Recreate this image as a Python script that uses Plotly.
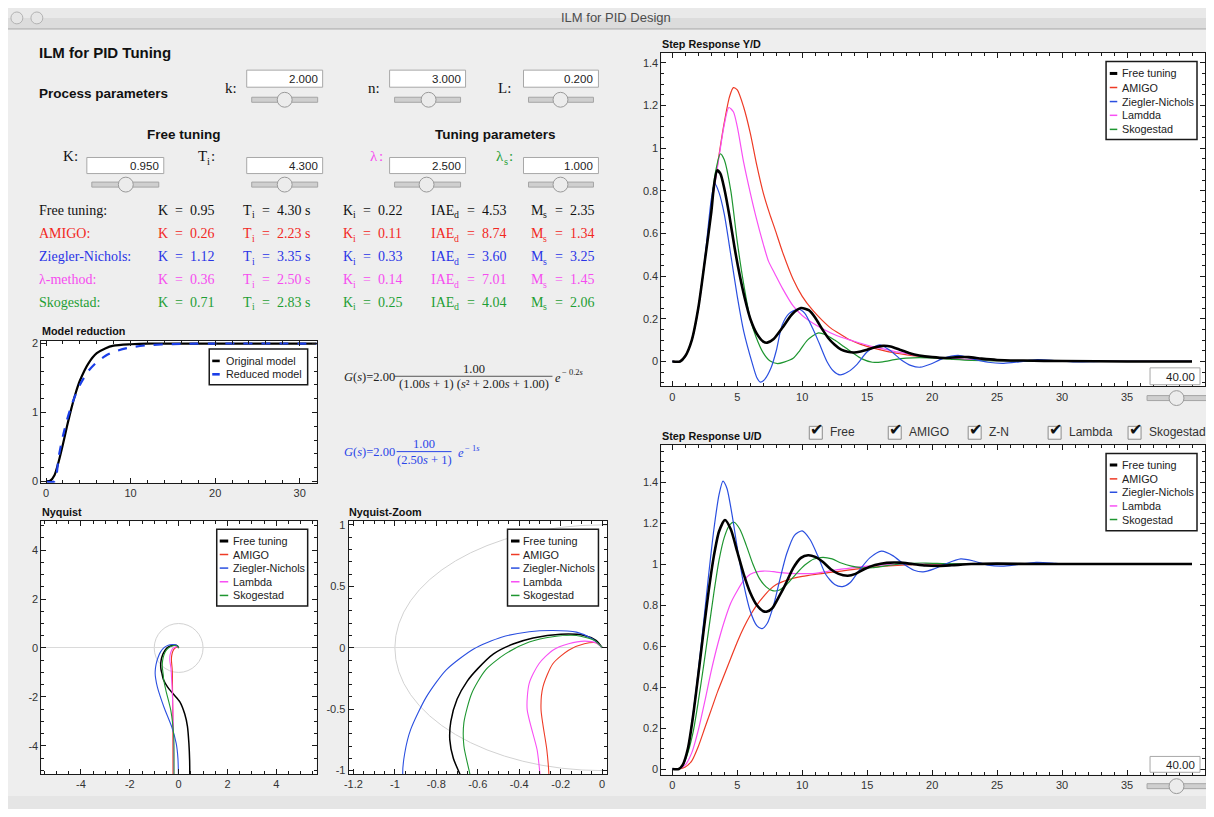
import plotly.graph_objects as go

# ---------------------------------------------------------------- data
METHOD_LABELS = ["Free tuning:", "AMIGO:", "Ziegler-Nichols:", "λ-method:", "Skogestad:"]
K_VALS = [0.95, 0.26, 1.12, 0.36, 0.71]
TI_VALS = [4.30, 2.23, 3.35, 2.50, 2.83]
KI_VALS = [0.22, 0.11, 0.33, 0.14, 0.25]
IAE_VALS = [4.53, 8.74, 3.60, 7.01, 4.04]
MS_VALS = [2.35, 1.34, 3.25, 1.45, 2.06]

PROCESS_PARAMS = [("k:", 2.000), ("n:", 3.000), ("L:", 0.200)]
FREE_PARAMS = [(("K", "", ":"), 0.950), (("T", "i", ":"), 4.300)]
TUNING_PARAMS = [(("λ", "", ":"), 2.500), (("λ", "s", ":"), 1.000)]

LEGEND_YD = ["Free tuning", "AMIGO", "Ziegler-Nichols", "Lamdda", "Skogestad"]
LEGEND_UD = ["Free tuning", "AMIGO", "Ziegler-Nichols", "Lambda", "Skogestad"]
LEGEND_MR = ["Original model", "Reduced model"]
CHECK_LABELS = ["Free", "AMIGO", "Z-N", "Lambda", "Skogestad"]
TIME_SPAN = 40.00

# model reduction step responses
MR_T_ORIG = [0, 0.5, 1, 1.5, 2, 2.5, 3, 3.5, 4, 5, 6, 7, 8, 10, 12, 15, 20, 32]
MR_Y_ORIG = [0, 0.01, 0.09, 0.29, 0.54, 0.81, 1.06, 1.28, 1.46, 1.71, 1.86, 1.93, 1.97, 1.99, 2.0, 2.0, 2.0, 2.0]
MR_T_RED = [0, 1, 1.5, 2, 2.5, 3, 3.5, 4, 5, 6, 7, 8, 10, 12, 15, 20, 32]
MR_Y_RED = [0, 0, 0.36, 0.66, 0.9, 1.1, 1.26, 1.4, 1.6, 1.73, 1.82, 1.88, 1.945, 1.975, 1.993, 2.0, 2.0]

# Nyquist curves (real, imag)
NY_RE_FREE = [0.46, 0.45, 0.42, 0.36, 0.25, 0.05, -0.2, -0.45, -0.62, -0.686, -0.718, -0.735, -0.73, -0.70, -0.65, -0.60, -0.524, -0.43, -0.333, -0.2, -0.086, -0.03, 0.0]
NY_IM_FREE = [-5.6, -4.6, -3.9, -3.2, -2.7, -2.2, -1.9, -1.6, -1.3, -1.03, -0.9, -0.75, -0.6, -0.42, -0.27, -0.17, -0.05, 0.03, 0.08, 0.11, 0.10, 0.06, 0.0]
NY_RE_AMIGO = [-0.23, -0.232, -0.236, -0.242, -0.25, -0.255, -0.257, -0.267, -0.295, -0.286, -0.238, -0.162, -0.086, -0.03, 0.0]
NY_IM_AMIGO = [-5.6, -4.5, -3.5, -2.5, -1.7, -1.25, -1.03, -0.83, -0.5, -0.32, -0.13, -0.02, 0.032, 0.04, 0.0]
NY_RE_ZN = [0.0, -0.03, -0.1, -0.28, -0.6, -0.87, -0.94, -0.962, -0.952, -0.924, -0.848, -0.752, -0.62, -0.486, -0.352, -0.238, -0.124, -0.048, 0.0]
NY_IM_ZN = [-5.6, -4.5, -3.9, -3.23, -2.42, -1.6, -1.25, -1.03, -0.855, -0.667, -0.40, -0.18, -0.01, 0.086, 0.13, 0.14, 0.127, 0.073, 0.0]
NY_RE_LAMBDA = [-0.2, -0.205, -0.215, -0.235, -0.265, -0.29, -0.3, -0.314, -0.362, -0.352, -0.305, -0.238, -0.162, -0.086, -0.03, 0.0]
NY_IM_LAMBDA = [-5.6, -4.5, -3.5, -2.5, -1.7, -1.25, -1.03, -0.83, -0.5, -0.29, -0.13, -0.02, 0.032, 0.054, 0.04, 0.0]
NY_RE_SKOG = [-0.19, -0.19, -0.2, -0.32, -0.52, -0.61, -0.638, -0.667, -0.667, -0.629, -0.562, -0.467, -0.352, -0.238, -0.124, -0.038, 0.0]
NY_IM_SKOG = [-5.6, -4.5, -3.64, -2.55, -1.74, -1.3, -1.03, -0.80, -0.61, -0.37, -0.18, -0.05, 0.046, 0.09, 0.1, 0.06, 0.0]
UNIT_RADIUS = 1.0

# Step response Y/D
YD_T_FREE = [0, 0.6, 1, 1.5, 2, 2.5, 3, 3.2, 3.45, 3.7, 4.0, 4.4, 4.8, 5.2, 5.6, 6.0, 6.5, 7.0, 7.3, 7.8, 8.5, 9.2, 9.9, 10.5, 11, 11.5, 12, 12.5, 13, 13.5, 14, 14.5, 15, 15.6, 16.2, 16.8, 17.5, 18.2, 19, 20, 21, 22, 22.8, 23.8, 25, 27, 30, 35, 40]
YD_Y_FREE = [0, 0, 0.025, 0.1, 0.25, 0.47, 0.7, 0.82, 0.895, 0.88, 0.81, 0.68, 0.53, 0.4, 0.29, 0.2, 0.13, 0.093, 0.088, 0.105, 0.16, 0.22, 0.25, 0.24, 0.205, 0.155, 0.11, 0.078, 0.055, 0.045, 0.042, 0.047, 0.055, 0.066, 0.073, 0.07, 0.055, 0.04, 0.028, 0.02, 0.016, 0.02, 0.02, 0.013, 0.007, 0.004, 0.002, 0, 0]
YD_T_AMIGO = [0, 0.6, 1, 1.5, 2, 2.5, 3, 3.5, 4.0, 4.4, 4.7, 5.0, 5.5, 6.0, 6.5, 7.0, 7.5, 7.9, 8.5, 9.3, 10, 10.8, 11.5, 12.2, 13, 13.7, 14.5, 15.5, 16.5, 17.5, 18.5, 19.5, 21, 22.5, 25, 28, 32, 40]
YD_Y_AMIGO = [0, 0, 0.025, 0.1, 0.25, 0.47, 0.72, 0.93, 1.12, 1.24, 1.283, 1.272, 1.19, 1.07, 0.92, 0.79, 0.69, 0.62, 0.51, 0.385, 0.305, 0.24, 0.195, 0.156, 0.125, 0.1, 0.08, 0.062, 0.047, 0.036, 0.027, 0.021, 0.014, 0.009, 0.004, 0.002, 0, 0]
YD_T_ZN = [0, 0.6, 1, 1.5, 2, 2.5, 3, 3.26, 3.6, 4.0, 4.5, 5.0, 5.5, 6.15, 6.5, 6.78, 7.1, 7.6, 8.0, 8.45, 9.0, 9.7, 10.2, 10.8, 11.3, 11.9, 12.4, 12.9, 13.5, 14.2, 15.0, 15.95, 16.8, 17.6, 18.4, 19.1, 19.9, 20.8, 22.0, 23.1, 24.3, 25.5, 26.7, 28.1, 29.5, 31, 33, 40]
YD_Y_ZN = [0, 0, 0.025, 0.1, 0.25, 0.48, 0.76, 0.834, 0.79, 0.69, 0.5, 0.305, 0.14, -0.008, -0.075, -0.097, -0.085, -0.03, 0.05, 0.17, 0.225, 0.245, 0.225, 0.155, 0.086, 0.0, -0.045, -0.063, -0.05, -0.015, 0.045, 0.078, 0.05, 0.008, -0.02, -0.027, -0.012, 0.013, 0.028, 0.012, -0.004, -0.009, -0.002, 0.008, 0.004, -0.002, 0, 0]
YD_T_LAMBDA = [0, 0.6, 1, 1.5, 2, 2.5, 3, 3.5, 4.0, 4.35, 4.7, 5.0, 5.5, 6.0, 6.43, 7.0, 7.4, 7.9, 8.5, 9.3, 10, 10.8, 11.5, 12.2, 13, 13.7, 14.5, 15.5, 16.5, 17.5, 18.5, 19.5, 21, 22.5, 25, 28, 32, 40]
YD_Y_LAMBDA = [0, 0, 0.025, 0.1, 0.25, 0.47, 0.72, 0.92, 1.11, 1.19, 1.17, 1.1, 0.93, 0.79, 0.68, 0.55, 0.47, 0.41, 0.34, 0.26, 0.215, 0.18, 0.155, 0.133, 0.113, 0.1, 0.085, 0.068, 0.055, 0.042, 0.031, 0.023, 0.015, 0.01, 0.004, 0.002, 0, 0]
YD_T_SKOG = [0, 0.6, 1, 1.5, 2, 2.5, 3, 3.3, 3.7, 4.0, 4.5, 5.0, 5.5, 6.0, 6.43, 7.0, 7.5, 8.1, 8.6, 9.3, 9.8, 10.4, 11.2, 11.8, 12.5, 13.2, 13.9, 14.6, 15.4, 16.2, 17.1, 18, 19, 20, 21.5, 23, 25, 28, 40]
YD_Y_SKOG = [0, 0, 0.025, 0.1, 0.25, 0.47, 0.72, 0.88, 0.973, 0.945, 0.8, 0.56, 0.36, 0.2, 0.117, 0.04, 0.003, -0.01, -0.003, 0.015, 0.05, 0.1, 0.133, 0.125, 0.1, 0.07, 0.04, 0.012, -0.004, -0.002, 0.008, 0.015, 0.018, 0.016, 0.01, 0.005, 0.002, 0, 0]

# Step response U/D
UD_T_FREE = [0, 0.5, 0.8, 1.2, 1.6, 2, 2.4, 2.8, 3.2, 3.6, 4.05, 4.5, 5, 5.5, 6, 6.5, 7, 7.3, 7.7, 8.2, 8.7, 9.3, 9.9, 10.45, 11, 11.6, 12.2, 12.8, 13.5, 14.1, 14.8, 15.6, 16.5, 17.5, 18.5, 19.5, 20.5, 21.5, 23, 25, 28, 40]
UD_Y_FREE = [0, 0, 0.02, 0.1, 0.26, 0.46, 0.67, 0.87, 1.04, 1.16, 1.215, 1.17, 1.06, 0.95, 0.86, 0.8, 0.77, 0.768, 0.785, 0.84, 0.9, 0.98, 1.03, 1.043, 1.035, 1.01, 0.975, 0.952, 0.943, 0.952, 0.976, 0.995, 1.006, 1.007, 1.0, 0.993, 0.991, 0.994, 1.0, 1.002, 1.0, 1.0]
UD_T_AMIGO = [0, 0.5, 1, 1.5, 2, 2.5, 3, 3.5, 4, 4.5, 5, 5.5, 6, 6.5, 7, 7.5, 8, 9, 10, 11, 12, 13, 14, 15, 16, 18, 20, 25, 40]
UD_Y_AMIGO = [0, 0, 0.01, 0.04, 0.11, 0.2, 0.29, 0.38, 0.46, 0.54, 0.62, 0.69, 0.75, 0.8, 0.84, 0.875, 0.9, 0.925, 0.94, 0.95, 0.958, 0.966, 0.974, 0.982, 0.988, 0.996, 1.0, 1.001, 1.0]
UD_T_ZN = [0, 0.5, 0.8, 1.2, 1.6, 2, 2.4, 2.8, 3.2, 3.6, 3.9, 4.2, 4.6, 5, 5.5, 6, 6.5, 6.9, 7.3, 7.8, 8.3, 8.8, 9.4, 10, 10.6, 11.2, 11.8, 12.5, 13.1, 13.7, 14.4, 15.2, 16.1, 17, 17.8, 18.6, 19.3, 20.1, 21, 22.2, 23.2, 24.3, 25.4, 26.5, 28, 29.5, 31, 33, 40]
UD_Y_ZN = [0, 0, 0.02, 0.1, 0.27, 0.48, 0.71, 0.95, 1.17, 1.34, 1.405, 1.37, 1.24, 1.08, 0.9, 0.77, 0.7, 0.685, 0.71, 0.8, 0.93, 1.05, 1.14, 1.162, 1.12, 1.04, 0.95, 0.9, 0.89, 0.91, 0.97, 1.03, 1.063, 1.04, 1.0, 0.97, 0.962, 0.975, 1.0, 1.025, 1.015, 0.995, 0.99, 0.997, 1.008, 1.004, 0.998, 1.0, 1.0]
UD_T_LAMBDA = [0, 0.5, 1, 1.5, 2, 2.5, 3, 3.5, 4, 4.5, 5, 5.5, 6, 6.5, 7, 7.5, 8, 9, 10, 11, 12, 13, 14, 15, 16, 18, 20, 25, 40]
UD_Y_LAMBDA = [0, 0, 0.02, 0.08, 0.19, 0.33, 0.48, 0.61, 0.72, 0.81, 0.87, 0.92, 0.95, 0.962, 0.966, 0.965, 0.961, 0.955, 0.953, 0.955, 0.965, 0.975, 0.983, 0.99, 0.995, 1.0, 1.002, 1.001, 1.0]
UD_T_SKOG = [0, 0.5, 0.8, 1.2, 1.6, 2, 2.4, 2.8, 3.2, 3.6, 4.0, 4.4, 4.75, 5.2, 5.7, 6.2, 6.7, 7.2, 7.7, 8.2, 8.8, 9.5, 10.2, 10.9, 11.6, 12.3, 13, 13.8, 14.6, 15.4, 16.3, 17.2, 18.5, 19.5, 21, 23, 40]
UD_Y_SKOG = [0, 0, 0.015, 0.08, 0.18, 0.33, 0.5, 0.68, 0.86, 1.02, 1.13, 1.19, 1.204, 1.17, 1.09, 1.0, 0.93, 0.89, 0.87, 0.872, 0.9, 0.95, 0.995, 1.025, 1.033, 1.025, 1.005, 0.99, 0.982, 0.982, 0.99, 0.998, 1.004, 1.005, 1.002, 1.0, 1.0]

# ---------------------------------------------------------------- styles
PAGE_W, PAGE_H = 1214, 817
OFF = 8                      # default body margin of the html page
W, H = PAGE_W - 2 * OFF, PAGE_H - 2 * OFF
SANS = "Liberation Sans, Arial, Helvetica, sans-serif"
SERIF = "Liberation Serif, Times New Roman, serif"
TEXT_COLORS = ["#111111", "#f2281f", "#2a34e6", "#f64cf0", "#1f9e35"]
LINE_COLORS = ["#000000", "#ee3b26", "#2a4fe0", "#f850f4", "#1e9630"]
LINE_WIDTHS = [2.6, 1.2, 1.2, 1.2, 1.2]
BG = "#eeeeee"

# approximate Times glyph advance widths (per 1000 em) for composing sub-scripted labels
TIMES_W = {"T": 611, "K": 722, "I": 333, "A": 722, "E": 611, "M": 889, "λ": 560,
           "i": 278, "d": 500, "s": 389, "e": 444, ":": 278}


def tw(s, size):
    return sum(TIMES_W.get(ch, 500) for ch in s) * size / 1000.0


def cx(x):
    # small horizontal calibration of the left part of the layout
    return x - 5.0 * (1206 - x) / 1166 if x < 1206 else x


def cy(y):
    # small vertical calibration of the top part of the layout
    return y - 4.0 * max(0.0, 1 - (y - 20) / 310)


def px(x):
    return (cx(x) - OFF) / W


def py(y):
    return 1 - (cy(y) - OFF) / H


shapes = []
annotations = []


def rect(x0, y0, x1, y1, fill, line=None, lw=1, layer="above"):
    shapes.append(dict(type="rect", xref="paper", yref="paper",
                       x0=px(x0), x1=px(x1), y0=py(y1), y1=py(y0),
                       fillcolor=fill,
                       line=dict(color=line if line else fill, width=lw if line else 0),
                       layer=layer))


def circle(ccx, ccy, r, fill, line, lw=1):
    x = cx(ccx)
    y = cy(ccy)
    shapes.append(dict(type="circle", xref="paper", yref="paper",
                       x0=(x - r - OFF) / W, x1=(x + r - OFF) / W,
                       y0=1 - (y + r - OFF) / H, y1=1 - (y - r - OFF) / H,
                       fillcolor=fill, line=dict(color=line, width=lw), layer="above"))


def hline(x0, x1, y, color, width=1, dash="solid"):
    shapes.append(dict(type="line", xref="paper", yref="paper",
                       x0=px(x0), x1=px(x1), y0=py(y), y1=py(y),
                       line=dict(color=color, width=width, dash=dash), layer="above"))


def text(x, y, s, size, color="#111111", family=SANS, xanchor="left", yanchor="middle"):
    annotations.append(dict(x=px(x), y=py(y), xref="paper", yref="paper", text=s,
                            showarrow=False, xanchor=xanchor, yanchor=yanchor,
                            font=dict(family=family, size=size, color=color),
                            borderpad=0))


def sub_text(x, y, main, sub, rest, size, color):
    """Symbol with a subscript, followed by the rest of the text (all serif)."""
    text(x, y, main, size, color, SERIF)
    x2 = x + tw(main, size) + 0.5
    if sub:
        ss = size * 0.7
        text(x2, y + size * 0.3, sub, ss, color, SERIF)
        x2 += tw(sub, ss) + 0.5
    if rest:
        text(x2, y, rest, size, color, SERIF)


def input_box(x0, y0, x1, y1, value, fmt="{:.3f}"):
    rect(x0, y0, x1, y1, "#ffffff", "#a8a8a8", 1)
    text(x1 - 4, (y0 + y1) / 2 + 0.5, fmt.format(value), 11.5, "#222222", SANS, "right")


def slider(x0, x1, sy, knob_x):
    rect(x0, sy - 2.5, x1, sy + 2.5, "#cfcfcf", "#a5a5a5", 1)
    circle(knob_x, sy, 7.5, "#ececec", "#9a9a9a", 1)


def legend(box, entries, ys, sx0, sx1, tx):
    rect(box[0], box[1], box[2], box[3], "#ffffff", "#1a1a1a", 1.5)
    for (name, color, width, dash), y in zip(entries, ys):
        hline(sx0, sx1, y, color, width, dash)
        text(tx, y, name, 10.8, "#222222")


# ---------------------------------------------------------------- window chrome
rect(0, 7, PAGE_W, 19, "#e9e9e9")
rect(0, 19, PAGE_W, 30, "#dcdcdc")
hline(0, PAGE_W, 30, "#a9a9a9", 1)
circle(17, 19, 6, "#e6e6e6", "#b3b3b3", 1)
circle(37, 19, 6, "#e6e6e6", "#b3b3b3", 1)
text(617, 19, "ILM for PID Design", 13, "#4d4d4d", SANS, "center")
rect(0, 800, PAGE_W, PAGE_H, "#e5e5e5")

# ---------------------------------------------------------------- left control panel
text(38, 53, "<b>ILM for PID Tuning</b>", 15, "#111111")
text(38, 94, "<b>Process parameters</b>", 13.5, "#111111")

proc_cols = [(224, 247, 323, 285), (367, 390, 466, 429), (497, 524, 599, 561)]
for (lab, val), (lx, bx0, bx1, kx) in zip(PROCESS_PARAMS, proc_cols):
    text(lx, 89, lab, 15, "#111111", SERIF)
    input_box(bx0, 71, bx1, 88, val)
    slider(bx0 + 5, bx1 - 5, 100.5, kx)

text(184, 135, "<b>Free tuning</b>", 13.5, "#111111", SANS, "center")
text(496, 135, "<b>Tuning parameters</b>", 13.5, "#111111", SANS, "center")

free_cols = [(62, 87, 164, 126, "#111111"), (197, 247, 323, 285, "#111111")]
tune_cols = [(369, 390, 466, 427, TEXT_COLORS[3]), (495, 524, 599, 561, TEXT_COLORS[4])]
for (lab, val), (lx, bx0, bx1, kx, col) in zip(FREE_PARAMS + TUNING_PARAMS, free_cols + tune_cols):
    sub_text(lx, 157, lab[0], lab[1], lab[2], 15, col)
    input_box(bx0, 158, bx1, 174, val)
    slider(bx0 + 5, bx1 - 5, 185, kx)

# results table
row_y = [211, 234, 257, 280, 302]
sp = "\u2002"
for i in range(5):
    c = TEXT_COLORS[i]
    y = row_y[i]
    text(38, y, METHOD_LABELS[i], 14, c, SERIF)
    text(157, y, f"K{sp}={sp}{K_VALS[i]:.2f}", 14, c, SERIF)
    sub_text(242, y, "T", "i", f"{sp}={sp}{TI_VALS[i]:.2f} s", 14, c)
    sub_text(342, y, "K", "i", f"{sp}={sp}{KI_VALS[i]:.2f}", 14, c)
    sub_text(430, y, "IAE", "d", f"{sp}={sp}{IAE_VALS[i]:.2f}", 14, c)
    sub_text(530, y, "M", "s", f"{sp}={sp}{MS_VALS[i]:.2f}", 14, c)

# transfer-function formulas
FC = "#222222"
text(343, 377, "<i>G</i>(<i>s</i>)=2.00", 12.5, FC, SERIF)
text(474, 369, "1.00", 12.5, FC, SERIF, "center")
hline(395, 553, 376.5, "#555555", 1)
text(474, 384.5, "(1.00<i>s</i> + 1) (<i>s</i>² + 2.00<i>s</i> + 1.00)", 12.5, FC, SERIF, "center")
text(555, 378, "<i>e</i>", 12.5, FC, SERIF)
text(562, 372.5, "− 0.2<i>s</i>", 8.5, FC, SERIF)

FB = "#2a45e8"
text(343, 453, "<i>G</i>(<i>s</i>)=2.00", 12.5, FB, SERIF)
text(424.5, 445, "1.00", 12.5, FB, SERIF, "center")
hline(397, 452, 452.5, FB, 1)
text(424.5, 460.5, "(2.50<i>s</i> + 1)", 12.5, FB, SERIF, "center")
text(457, 454, "<i>e</i>", 12.5, FB, SERIF)
text(464, 448.5, "− 1<i>s</i>", 8.5, FB, SERIF)

# plot titles
text(41, 331, "<b>Model reduction</b>", 10.8)
text(41, 513, "<b>Nyquist</b>", 10.8)
text(348, 513, "<b>Nyquist-Zoom</b>", 10.8)
text(662, 45, "<b>Step Response Y/D</b>", 10.8)
text(662, 437, "<b>Step Response U/D</b>", 10.8)

# check boxes
check_x = [810, 889, 969, 1049, 1129]
for lab, bx in zip(CHECK_LABELS, check_x):
    rect(bx, 427, bx + 13, 440, "#f6f6f6", "#8c8c8c", 1)
    text(bx + 7.5, 430, "✔", 16, "#111111", "DejaVu Sans", "center")
    text(bx + 20, 433, lab, 12, "#333333")

# time-span boxes and sliders
for (by0, by1, sy) in [(368, 385, 398.5), (760, 776, 790)]:
    input_box(1151, by0, 1201, by1, TIME_SPAN, "{:.2f}")
    slider(1148, 1209, sy, 1177.5)

# legends
mr_entries = [(LEGEND_MR[0], "#000000", 2.6, "solid"), (LEGEND_MR[1], "#1a3ee8", 2.6, "solid")]
legend((209.5, 349, 308, 385), mr_entries, [361, 374.5], 212.5, 220, 225.5)
ny_entries = [(LEGEND_UD[i], LINE_COLORS[i], 3 if i == 0 else 1.5, "solid") for i in range(5)]
ny_ys = [542.7, 556.3, 570, 583.8, 597.6]
legend((217, 530.7, 308, 608.3), ny_entries, ny_ys, 220, 228.5, 232)
legend((508, 530.7, 599, 608.3), ny_entries, ny_ys, 511.5, 520, 522.5)
yd_entries = [(LEGEND_YD[i], LINE_COLORS[i], 3 if i == 0 else 1.5, "solid") for i in range(5)]
legend((1107, 62.3, 1198, 140), yd_entries, [74.3, 88.3, 102.3, 116, 130], 1110.7, 1118.2, 1121.5)
legend((1107, 454.3, 1198, 532.3), ny_entries, [466, 480, 493.5, 507.3, 521], 1110.7, 1118.2, 1121.5)

# unit circles in the Nyquist plots
for ax in ["2", "3"]:
    shapes.append(dict(type="circle", xref="x" + ax, yref="y" + ax,
                       x0=-UNIT_RADIUS, x1=UNIT_RADIUS, y0=-UNIT_RADIUS, y1=UNIT_RADIUS,
                       line=dict(color="#d2d2d2", width=1), layer="below"))

# ---------------------------------------------------------------- traces
fig = go.Figure()


def add(x, y, ax, color, width, dash="solid", shape="spline"):
    fig.add_trace(go.Scatter(x=x, y=y, mode="lines", xaxis="x" + ax, yaxis="y" + ax,
                             line=dict(color=color, width=width, dash=dash, shape=shape,
                                       smoothing=0.7),
                             showlegend=False, hoverinfo="skip"))


add(MR_T_ORIG, MR_Y_ORIG, "", "#000000", 2.2)
add(MR_T_RED, MR_Y_RED, "", "#1a3ee8", 2.2, "dash")

ny_re = [NY_RE_FREE, NY_RE_AMIGO, NY_RE_ZN, NY_RE_LAMBDA, NY_RE_SKOG]
ny_im = [NY_IM_FREE, NY_IM_AMIGO, NY_IM_ZN, NY_IM_LAMBDA, NY_IM_SKOG]
for ax in ["2", "3"]:
    for i in range(5):
        add(ny_re[i], ny_im[i], ax, LINE_COLORS[i], 1.5 if i == 0 else 1.1)

yd_t = [YD_T_FREE, YD_T_AMIGO, YD_T_ZN, YD_T_LAMBDA, YD_T_SKOG]
yd_y = [YD_Y_FREE, YD_Y_AMIGO, YD_Y_ZN, YD_Y_LAMBDA, YD_Y_SKOG]
ud_t = [UD_T_FREE, UD_T_AMIGO, UD_T_ZN, UD_T_LAMBDA, UD_T_SKOG]
ud_y = [UD_Y_FREE, UD_Y_AMIGO, UD_Y_ZN, UD_Y_LAMBDA, UD_Y_SKOG]
for i in [1, 3, 4, 2, 0]:
    add(yd_t[i], yd_y[i], "4", LINE_COLORS[i], LINE_WIDTHS[i])
for i in [1, 3, 4, 2, 0]:
    add(ud_t[i], ud_y[i], "5", LINE_COLORS[i], LINE_WIDTHS[i])


# ---------------------------------------------------------------- axes
def fmt_tick(v):
    return f"{v:g}"


def axis(d0, d1, rng, ticks, minor_vals, anchor, horizontal, zeroline=False):
    dom = [px(d0), px(d1)] if horizontal else [py(d1), py(d0)]
    return dict(domain=dom, range=rng, anchor=anchor, showline=True, linecolor="#1a1a1a",
                linewidth=1, mirror="ticks", ticks="inside", ticklen=5, tickwidth=1,
                tickcolor="#1a1a1a", tickmode="array", tickvals=ticks,
                ticktext=[fmt_tick(v) for v in ticks],
                tickfont=dict(family=SANS, size=11, color="#333333"),
                showgrid=False, zeroline=zeroline, zerolinecolor="#dadada", zerolinewidth=1,
                fixedrange=True,
                minor=dict(ticks="inside", ticklen=3, tickwidth=1, tickcolor="#1a1a1a",
                           tickmode="array", tickvals=minor_vals, showgrid=False))


def minors(a, b, step):
    n = int(round((b - a) / step))
    return [round(a + k * step, 6) for k in range(n + 1)]


layout_axes = dict(
    xaxis=axis(41.5, 317, [-0.55, 32], [0, 10, 20, 30], minors(0, 32, 2), "y", True),
    yaxis=axis(340.7, 484, [-0.02, 2.04], [0, 1, 2], minors(0, 2, 0.2), "x", False),
    xaxis2=axis(41.5, 317, [-5.62, 5.65], [-4, -2, 0, 2, 4], minors(-5.5, 5.5, 0.5), "y2", True),
    yaxis2=axis(522.7, 778, [-5.16, 5.18], [-4, -2, 0, 2, 4], minors(-5, 5, 0.5), "x2", False, True),
    xaxis3=axis(349, 607.5, [-1.223, 0.023], [-1.2, -1, -0.8, -0.6, -0.4, -0.2, 0], minors(-1.2, 0, 0.05), "y3", True),
    yaxis3=axis(522.7, 778, [-1.03, 1.03], [-1, -0.5, 0, 0.5, 1], minors(-1, 1, 0.1), "x3", False, True),
    xaxis4=axis(662, 1206, [-0.84, 41], [0, 5, 10, 15, 20, 25, 30, 35], minors(0, 41, 1), "y4", True),
    yaxis4=axis(54, 386.7, [-0.117, 1.445], [0, 0.2, 0.4, 0.6, 0.8, 1, 1.2, 1.4], minors(-0.1, 1.4, 0.05), "x4", False),
    xaxis5=axis(662, 1206, [-0.84, 41], [0, 5, 10, 15, 20, 25, 30, 35], minors(0, 41, 1), "y5", True),
    yaxis5=axis(446, 778.3, [-0.027, 1.58], [0, 0.2, 0.4, 0.6, 0.8, 1, 1.2, 1.4], minors(0, 1.55, 0.05), "x5", False),
)

fig.update_layout(
    width=W, height=H, autosize=False,
    margin=dict(l=0, r=0, t=0, b=0, pad=0),
    paper_bgcolor=BG, plot_bgcolor="#ffffff",
    showlegend=False,
    shapes=shapes, annotations=annotations,
    **layout_axes,
)

fig.write_html("out.html", config={"displayModeBar": False})
